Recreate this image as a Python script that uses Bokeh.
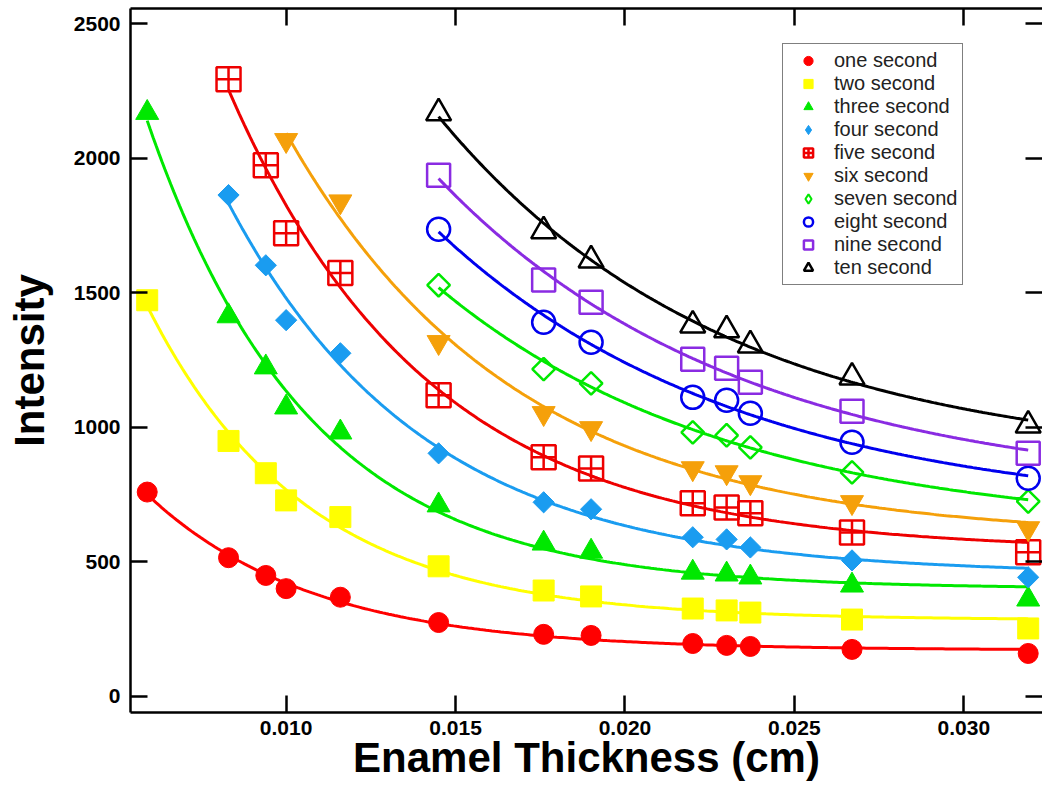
import numpy as np
from bokeh.plotting import figure
from bokeh.models import (Range1d, FixedTicker, PrintfTickFormatter, LinearAxis,
                          Legend, LegendItem)
from bokeh.embed import file_html
from bokeh.resources import INLINE

# ---------------- data ----------------
thickness_cm = [0.0059, 0.0083, 0.0094, 0.0100, 0.0116, 0.0145, 0.0176,
                0.0190, 0.0220, 0.0230, 0.0237, 0.0267, 0.0319]

one_second = [760, 516, 450, 401, 369, 275, 231, 227, 197, 190, 186, 175, 160]
two_second = [1473, 950, 830, 729, 667, 484, 394, 372, 327, 320, 312, 286, 253]
three_second = [2170, 1414, 1224, 1075, 982, 711, 569, 539, 461, 454, 443, 413, 361]
four_second = [1864, 1603, 1399, 1276, 904, 722, 696, 592, 584, 554, 506, 443]
five_second = [2295, 1975, 1722, 1574, 1120, 889, 848, 718, 703, 681, 610, 536]
six_second = [2068, 1840, 1317, 1053, 997, 848, 833, 796, 722, 625]
seven_second = [1529, 1217, 1164, 982, 971, 926, 833, 725]
eight_second = [1737, 1391, 1317, 1112, 1101, 1053, 945, 811]
nine_second = [1938, 1548, 1466, 1254, 1220, 1168, 1060, 904]
ten_second = [2169, 1730, 1622, 1380, 1362, 1306, 1187, 1008]

series_labels = ["one second", "two second", "three second", "four second",
                 "five second", "six second", "seven second", "eight second",
                 "nine second", "ten second"]
series_values = [one_second, two_second, three_second, four_second, five_second,
                 six_second, seven_second, eight_second, nine_second, ten_second]

x_ticks = [0.010, 0.015, 0.020, 0.025, 0.030]
y_ticks = [0, 500, 1000, 1500, 2000, 2500]

# ---------------- styles ----------------
# "legend" gives the marker used for the small legend swatch when it differs
styles = [
    dict(marker="circle", size=20, color="#ff0000", fill=True),
    dict(marker="square", size=21, color="#ffff00", fill=True),
    dict(marker="triangle", size=23, color="#00e800", fill=True),
    dict(marker="square", size=15, color="#1a9cf0", fill=True, angle=np.pi / 4,
         legend="diamond"),
    dict(marker="square_cross", size=24, color="#ee0000", fill=False),
    dict(marker="inverted_triangle", size=23, color="#f5a00a", fill=True),
    dict(marker="square", size=16, color="#00e800", fill=False, angle=np.pi / 4,
         legend="diamond"),
    dict(marker="circle", size=23, color="#0000ee", fill=False),
    dict(marker="square", size=23, color="#8a2be2", fill=False),
    dict(marker="triangle", size=25, color="#000000", fill=False),
]


def fit_curve(xs, ys, n=300):
    """Least-squares fit y = y0 + A*exp(-x/tau), like the original curve fits."""
    xs = np.asarray(xs, dtype=float)
    ys = np.asarray(ys, dtype=float)
    best = None
    for tau in np.geomspace(0.0005, 0.3, 600):
        M = np.column_stack([np.ones_like(xs), np.exp(-xs / tau)])
        coef, *_ = np.linalg.lstsq(M, ys, rcond=None)
        sse = float(np.sum((M @ coef - ys) ** 2))
        if best is None or sse < best[0]:
            best = (sse, tau, coef)
    _, tau, coef = best
    xf = np.linspace(xs.min(), xs.max(), n)
    return xf, coef[0] + coef[1] * np.exp(-xf / tau)


FONT = "Liberation Sans"

p = figure(width=1042, height=788,
           x_range=Range1d(0.005407, 0.032322),
           y_range=Range1d(-59.5, 2557.6),
           output_backend="svg", toolbar_location=None,
           x_axis_label="Enamel Thickness (cm)", y_axis_label="Intensity",
           min_border_left=130, min_border_right=0,
           min_border_top=8, min_border_bottom=76)
p.outline_line_color = None
p.xgrid.visible = False
p.ygrid.visible = False
p.background_fill_color = "white"
p.border_fill_color = "white"

legend_items = []
for label, vals, st in zip(series_labels, series_values, styles):
    xs = thickness_cm[-len(vals):]
    xf, yf = fit_curve(xs, vals)
    p.line(xf, yf, line_color=st["color"], line_width=3)
for label, vals, st in zip(series_labels, series_values, styles):
    xs = thickness_cm[-len(vals):]
    kw = dict(size=st["size"], line_color=st["color"])
    if st["fill"]:
        kw.update(fill_color=st["color"], line_width=1)
    else:
        kw.update(fill_color=None, line_width=2.5)
    r = p.scatter(xs, vals, marker=st["marker"], angle=st.get("angle", 0.0), **kw)
    if "legend" in st:
        # hidden twin renderer of the same points, used only for the legend swatch
        lkw = dict(kw)
        lkw["line_width"] = 2.0 if not st["fill"] else 1
        r_leg = p.scatter(xs, vals, marker=st["legend"], visible=False, **lkw)
        legend_items.append(LegendItem(label=label, renderers=[r_leg]))
    else:
        legend_items.append(LegendItem(label=label, renderers=[r]))


def style_axis(ax, ticks):
    ax.ticker = FixedTicker(ticks=ticks)
    ax.axis_line_width = 2.5
    ax.axis_line_color = "black"
    ax.major_tick_in = 17
    ax.major_tick_out = 0
    ax.major_tick_line_width = 2.5
    ax.major_tick_line_color = "black"
    ax.minor_tick_line_color = None
    ax.major_label_text_font = FONT
    ax.major_label_text_font_style = "bold"
    ax.major_label_text_font_size = "21px"
    ax.major_label_text_color = "black"
    ax.axis_label_text_font = FONT
    ax.axis_label_text_font_style = "bold"
    ax.axis_label_text_font_size = "42px"
    ax.axis_label_text_color = "black"


def mirror_axis(ticks):
    """Unlabelled frame side with inward ticks (drawn as minor ticks)."""
    ax = LinearAxis(ticker=FixedTicker(ticks=[], minor_ticks=ticks))
    ax.axis_line_width = 2.5
    ax.axis_line_color = "black"
    ax.major_tick_line_color = None
    ax.minor_tick_in = 17
    ax.minor_tick_out = 0
    ax.minor_tick_line_width = 2.5
    ax.minor_tick_line_color = "black"
    ax.major_label_standoff = 0
    return ax


xa = p.xaxis[0]
style_axis(xa, x_ticks)
xa.formatter = PrintfTickFormatter(format="%.3f")
xa.major_label_standoff = 8
xa.axis_label_standoff = -4

ya = p.yaxis[0]
style_axis(ya, y_ticks)
ya.major_label_standoff = 10
ya.axis_label_standoff = 18

top = mirror_axis(x_ticks)
p.add_layout(top, "above")

right = mirror_axis(y_ticks)
right.axis_line_color = None
p.add_layout(right, "right")

legend = Legend(items=legend_items, location=(652, 427),
                label_text_font=FONT, label_text_font_size="20px",
                label_text_color="#222222",
                glyph_width=40, glyph_height=23, label_height=23,
                label_standoff=6, spacing=0, padding=5, margin=0,
                border_line_color="black", border_line_width=1.5,
                background_fill_color="white", background_fill_alpha=1.0)
p.add_layout(legend, "center")

open("out.html", "w").write(file_html(p, INLINE))
